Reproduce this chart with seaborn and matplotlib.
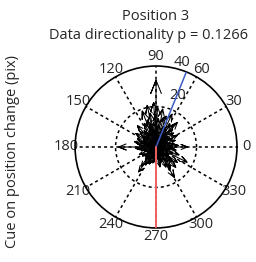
import numpy as np
import pandas as pd
import seaborn as sns
import matplotlib.pyplot as plt

# vectors of the compass plot (direction in degrees, length in pix)
arrow_deg = [90, 88, 93, 102, 80, 72, 85, 96, 100, 106, 111, 116, 121, 76, 68, 64,
             58, 54, 49, 44, 39, 34, 29, 24, 19, 14, 9, 4, 0, 356, 351, 346,
             341, 334, 329, 324, 319, 314, 308, 301, 296, 291, 286, 281, 276, 264,
             259, 254, 249, 244, 239, 235, 229, 224, 219, 214, 209, 204, 199, 194,
             189, 184, 180, 176, 171, 166, 161, 156, 151, 146, 141, 136, 131, 126,
             83, 98, 108, 113, 62, 57, 47, 37, 27, 12, 2, 348, 338, 318, 311, 303,
             293, 283, 268, 252, 241, 232, 221, 201, 186, 173, 158, 143, 133, 123,
             78, 91, 104, 70, 52, 42, 322, 306, 246, 164]
arrow_len = [33, 20, 22, 21, 19, 16, 14, 12, 17, 10, 19, 13, 8, 15, 11, 18,
             13, 9, 16, 7, 11, 8, 12, 6, 10, 7, 9, 11, 15.5, 8, 10, 6,
             12, 17, 7, 13, 10, 14, 9, 17.5, 11, 8, 7, 10, 6, 7,
             8, 6, 9, 7, 10, 15, 8, 7, 6, 8, 5, 9, 6, 7,
             8, 10, 18.5, 7, 9, 11, 8, 10, 7, 12, 9, 11, 14, 10,
             11, 9, 14, 8, 10, 7, 12, 6, 9, 5, 8, 7, 9, 11, 6, 13,
             5, 9, 8, 6, 7, 12, 5, 6, 9, 5, 6, 8, 7, 9,
             6, 16, 12, 9, 14, 8, 8, 12, 9, 6]

mean_dir = 68      # blue line
cue_dir = 270      # red line
r_max = 40
angle_ticks = list(range(0, 360, 30))
ring_labels = ["20", "40"]

title_1 = "Position 3"
title_2 = "Data directionality p = 0.1266"
ylabel = "Cue on position change (pix)"

sns.set_style("white")
plt.rcParams["font.family"] = ["Open Sans", "DejaVu Sans"]

# compass-style arrows: shaft + two head strokes
rows = []
for i, (d, L) in enumerate(zip(arrow_deg, arrow_len)):
    th = np.deg2rad(d)
    hr = L * np.hypot(0.8, 0.08)
    ha = np.arctan2(0.08, 0.8)
    pts = [(th, 0), (th, L), (th + ha, hr), (th, L), (th - ha, hr)]
    for k, (t, r) in enumerate(pts):
        rows.append({"id": i, "k": k, "theta": t, "r": r})
df = pd.DataFrame(rows)

fig = plt.figure(figsize=(2.56, 2.62), dpi=100)
ax = fig.add_axes([0.293, 0.130, 0.633, 0.618], projection="polar")

sns.lineplot(data=df, x="theta", y="r", units="id", estimator=None, sort=False,
             color="k", lw=0.75, ax=ax, legend=False)
ax.plot([np.deg2rad(mean_dir)] * 2, [0, r_max], color="#3a5cc4", lw=1.1, zorder=10)
ax.plot([np.deg2rad(cue_dir)] * 2, [0, r_max], color="#f06060", lw=1.4, zorder=10)

ax.set_ylim(0, r_max)
ax.set_thetagrids(angle_ticks, labels=[str(a) for a in angle_ticks], fontsize=10.5)
ax.set_rgrids([20], labels=[""])
ax.grid(True, color="k", ls=(0, (2, 2)), lw=1.1)
ax.spines["polar"].set_linewidth(1.2)
ax.spines["polar"].set_color("k")
ax.tick_params(axis="x", pad=-4)
ax.set_xlabel("")
ax.set_ylabel("")
ax.text(np.deg2rad(67), 27.5, ring_labels[0], fontsize=10.5, ha="center", va="center")
ax.text(np.deg2rad(73), 43.5, ring_labels[1], fontsize=10.5, ha="center", va="center")

fig.text(0.609, 1 - 16 / 262, title_1, ha="center", va="center", fontsize=10.5)
fig.text(0.58, 1 - 35 / 262, title_2, ha="center", va="center", fontsize=10.5)
fig.text(13 / 256, 1 - 152 / 262, ylabel, rotation=90, ha="center", va="center",
         fontsize=10.5)

fig.savefig("out.png", dpi=100)
